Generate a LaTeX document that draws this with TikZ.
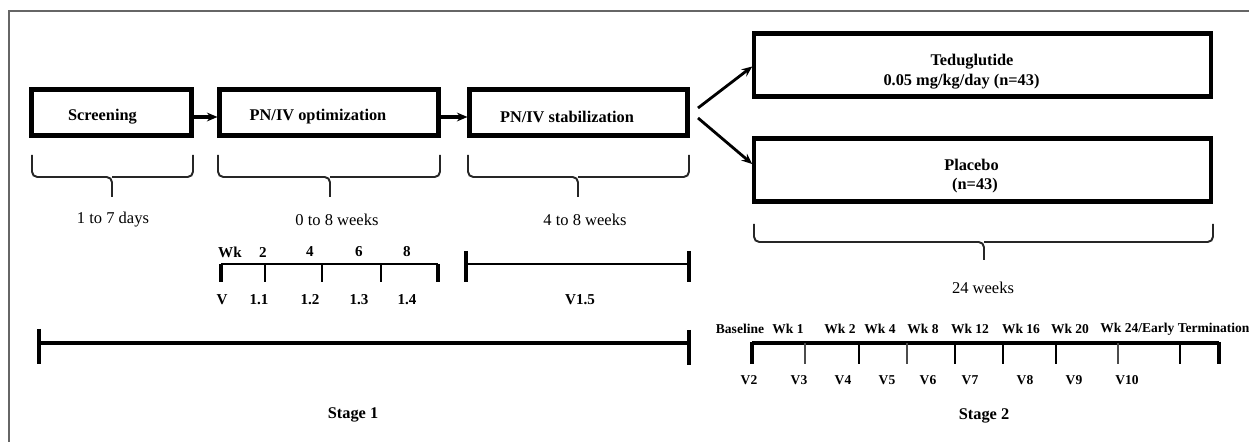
\documentclass[tikz,border=0pt]{standalone}
\usepackage{fontspec}
\setmainfont{Liberation Serif}
\usetikzlibrary{arrows.meta}
\tikzset{
  boxnode/.style 2 args={draw, line width=2.3pt, inner sep=0pt,
    minimum width=#1*0.02cm, minimum height=#2*0.02cm},
  lbl/.style={inner sep=0pt, font=\fontsize{9.3}{11}\selectfont\bfseries},
  dur/.style={inner sep=0pt, font=\fontsize{9.4}{11}\selectfont},
  tla/.style={inner sep=0pt, font=\fontsize{8.6}{10}\selectfont\bfseries},
  tlb/.style={inner sep=0pt, font=\fontsize{7.7}{9}\selectfont\bfseries},
  arr/.style={line width=1.8pt, -{Stealth[length=6pt,width=5pt]}},
  bracestyle/.style={line width=1.1pt, draw=black!85, rounded corners=3pt},
  tline/.style={line width=1.6pt},
  tend/.style={line width=2.4pt},
  tmid/.style={line width=1.2pt},
  tthin/.style={line width=0.7pt, draw=black!70},
}
\newcommand\mybrace[6]{%
  \draw[bracestyle] (#1,#4) -- (#1,#5) -- (#3,#5) -- (#3,#6);
  \draw[bracestyle] (#2,#4) -- (#2,#5) -- (#3,#5);}
\begin{document}
\begin{tikzpicture}[x=0.02cm, y=-0.02cm]
\useasboundingbox (0,0) rectangle (1249,442);
% frame
\draw[line width=0.8pt, draw=black!60] (9,442) -- (9,11) -- (1249,11);

% boxes
\node[boxnode={160}{46}] (scr)  at (111.5,112.5) {};
\node[boxnode={219}{46}] (opt)  at (329,112.5) {};
\node[boxnode={218}{46}] (stab) at (578.5,112.5) {};
\node[boxnode={457}{63}] (ted)  at (982.75,65) {};
\node[boxnode={457}{63}] (plac) at (982.75,170) {};

% box labels
\node[lbl] (tscr) at (102.5,117) {Screening};
\node[lbl] (topt) at (318,117) {PN/IV optimization};
\node[lbl] (tstab) at (567,117) {PN/IV stabilization};
\node[lbl] (tted1) at (972,62) {Teduglutide};
\node[lbl] (tted2) at (961.5,82) {0.05 mg/kg/day (n=43)};
\node[lbl] (tpl1) at (971.5,165) {Placebo};
\node[lbl] (tpl2) at (975,186) {(n=43)};

% arrows
\draw[arr] ([yshift=-0.09cm]scr.east) -- ([yshift=-0.09cm]opt.west);
\draw[arr] ([yshift=-0.09cm]opt.east) -- ([yshift=-0.09cm]stab.west);
\coordinate (b1) at (698,108);
\coordinate (b2) at (698,118);
\draw[arr, line width=1.6pt] (b1) -- ([yshift=-0.03cm]ted.west);
\draw[arr, line width=1.6pt] (b2) -- ([yshift=0.12cm]plac.west);

% braces
\mybrace{32}{193}{112}{155}{177}{197}
\mybrace{218}{440}{330}{155}{177}{197}
\mybrace{468}{689}{578}{155}{177}{197}
\mybrace{754}{1213}{984}{224}{242}{260}

% durations
\node[dur] (d1) at (113,220) {1 to 7 days};
\node[dur] (d2) at (337,220) {0 to 8 weeks};
\node[dur] (d3) at (585,220) {4 to 8 weeks};
\node[dur] (d4) at (983,288) {24 weeks};

% optimization timeline
\draw[tline] (221,264) -- (438,264);
\draw[tend] (221,264) -- (221,282);
\draw[tend] (438,264) -- (438,282);
\foreach \x in {265,322,381} \draw[tmid] (\x,264) -- (\x,282);
\node[tla] (w0) at (230,252) {Wk};
\node[tla] (w2) at (263,252) {2};
\node[tla] (w4) at (310,252) {4};
\node[tla] (w6) at (359,252) {6};
\node[tla] (w8) at (407,252) {8};
\node[tla] (v0) at (222,300) {V};
\node[tla] (v11) at (259,300) {1.1};
\node[tla] (v12) at (310,300) {1.2};
\node[tla] (v13) at (359,300) {1.3};
\node[tla] (v14) at (407,300) {1.4};

% stabilization timeline
\draw[tline] (466,264) -- (689,264);
\draw[tend] (466,251) -- (466,282);
\draw[tend] (689,251) -- (689,282);
\node[tla] (v15) at (580,300) {V1.5};

% stage 1 line
\draw[tline, line width=1.8pt] (39,343) -- (689,343);
\draw[tend, line width=2.6pt] (39,329) -- (39,364);
\draw[tend, line width=2.6pt] (689,330) -- (689,365);
\node[lbl] (s1) at (353,415) {Stage 1};

% stage 2 timeline
\draw[tline, line width=1.8pt] (752,343) -- (1219,343);
\draw[tend, line width=2.8pt] (752,342) -- (752,364);
\draw[tend, line width=2.8pt] (1219,342) -- (1219,364);
\foreach \x in {805,907,1118} \draw[tthin] (\x,343) -- (\x,364);
\foreach \x in {859,955,1003,1056,1180} \draw[tmid] (\x,343) -- (\x,364);
\node[tlb] (l0) at (740,329) {Baseline};
\node[tlb] (l1) at (788,329) {Wk 1};
\node[tlb] (l2) at (840,329) {Wk 2};
\node[tlb] (l3) at (880,329) {Wk 4};
\node[tlb] (l4) at (923,329) {Wk 8};
\node[tlb] (l5) at (970,329) {Wk 12};
\node[tlb] (l6) at (1021,329) {Wk 16};
\node[tlb] (l7) at (1070,329) {Wk 20};
\node[tlb, anchor=west] (l8) at (1100,329) {Wk 24/Early Termination};
\node[tlb] (u2) at (749,380) {V2};
\node[tlb] (u3) at (799,380) {V3};
\node[tlb] (u4) at (843,380) {V4};
\node[tlb] (u5) at (887,380) {V5};
\node[tlb] (u6) at (928,380) {V6};
\node[tlb] (u7) at (970,380) {V7};
\node[tlb] (u8) at (1025,380) {V8};
\node[tlb] (u9) at (1074,380) {V9};
\node[tlb] (u10) at (1127,380) {V10};
\node[lbl] (s2) at (984,416) {Stage 2};
\end{tikzpicture}
\end{document}
